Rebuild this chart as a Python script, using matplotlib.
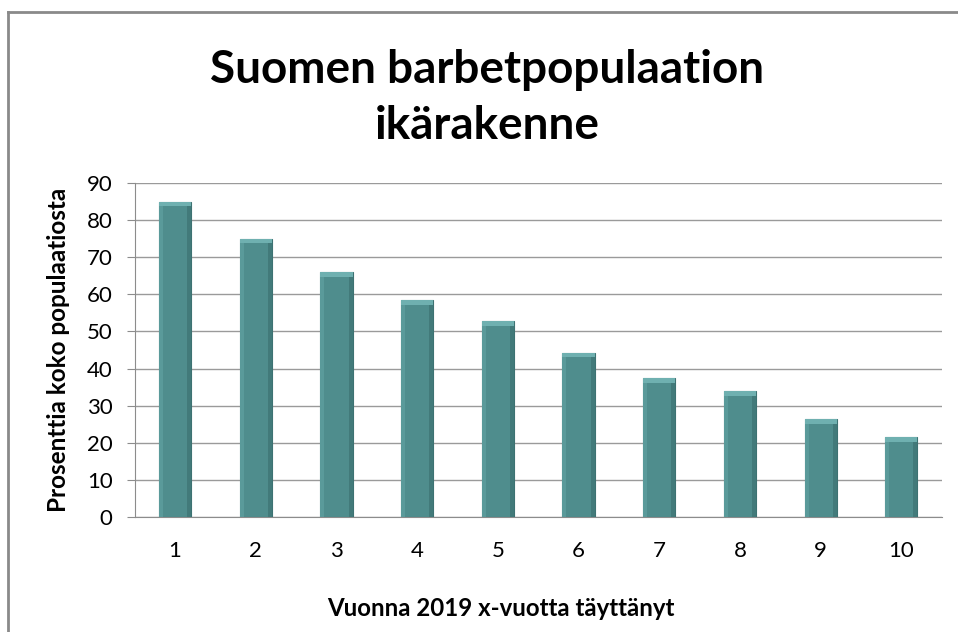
import matplotlib
matplotlib.use("Agg")
import matplotlib.pyplot as plt
from matplotlib.lines import Line2D
import numpy as np

ages = [1, 2, 3, 4, 5, 6, 7, 8, 9, 10]
percent = [85, 75, 66, 58.5, 52.7, 44.3, 37.4, 34.0, 26.3, 21.5]
title = "Suomen barbetpopulaation\nikärakenne"
xlabel = "Vuonna 2019 x-vuotta täyttänyt"
ylabel = "Prosenttia koko populaatiosta"

plt.rcParams['font.family'] = ['Lato', 'DejaVu Sans']

W, H = 958, 632
fig = plt.figure(figsize=(W / 100, H / 100), dpi=100)
ax = fig.add_axes([134.7 / W, 1 - 517 / H, 807 / W, 334 / H])

x = np.arange(len(ages))
bw = 0.4
ax.bar(x, percent, width=bw, color='#4f8d8d', edgecolor='#3d7272', linewidth=0.8, zorder=3)
# shading: darker right side, lighter left side
sw = 0.05
ax.bar(x + bw / 2 - sw / 2, percent, width=sw, color='#427a7a', linewidth=0, zorder=4)
ax.bar(x - bw / 2 + sw / 2, percent, width=sw, color='#5a9a9a', linewidth=0, zorder=4)
# bevel: lighter top cap
cap = 1.3
ax.bar(x, [cap] * len(x), bottom=[p - cap for p in percent], width=bw,
       color='#6fb0b0', linewidth=0, zorder=5)

ax.set_xlim(-0.5, len(x) - 0.5)
ax.set_ylim(0, 90)
ax.set_yticks(range(0, 91, 10))
ax.set_xticks(x)
ax.set_xticklabels([str(a) for a in ages])
ax.yaxis.grid(True, color='#9a9a9a', linewidth=1.0, zorder=0)
ax.set_axisbelow(True)
for s in ['top', 'right']:
    ax.spines[s].set_visible(False)
ax.spines['left'].set_color('#8c8c8c')
ax.spines['bottom'].set_color('#8c8c8c')
ax.tick_params(axis='y', length=6, color='#8c8c8c', labelsize=16, pad=10, labelcolor='#000000')
ax.tick_params(axis='x', length=0, labelsize=16, pad=17)

ax.set_ylabel(ylabel, fontsize=17.5, fontweight='bold')
ax.yaxis.set_label_coords((70 - 134.7) / 807, 0.5)
fig.text(501 / W, 1 - 608 / H, xlabel, ha='center', va='center', fontsize=17.3, fontweight='bold')
fig.text(487 / W, 1 - 98 / H, title, ha='center', va='center', fontsize=33,
         fontweight='bold', linespacing=1.42)

# chart border (top and left visible)
fig.add_artist(Line2D([8 / W, 8 / W], [0, 1 - 12 / H], transform=fig.transFigure,
                      color='#8a8a8a', linewidth=2))
fig.add_artist(Line2D([8 / W, 1], [1 - 12 / H, 1 - 12 / H], transform=fig.transFigure,
                      color='#8a8a8a', linewidth=2))

fig.savefig("out.png", dpi=100, facecolor='white')
